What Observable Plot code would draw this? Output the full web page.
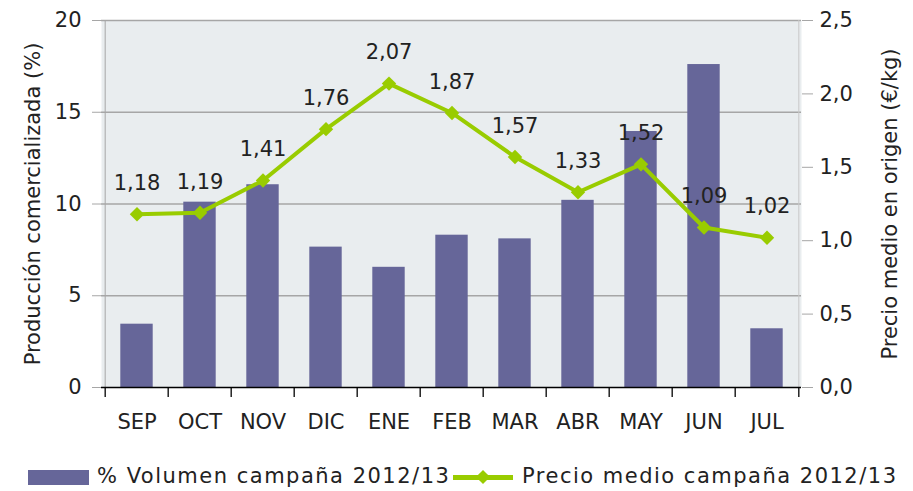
<!DOCTYPE html>
<html>
<head>
<meta charset="utf-8">
<script src="https://cdn.jsdelivr.net/npm/d3@7"></script>
<script src="https://cdn.jsdelivr.net/npm/@observablehq/plot@0.6"></script>
<style>
  body { margin: 0; background: #fff; font-family: "DejaVu Sans", sans-serif; }
  #wrap { position: relative; width: 913px; height: 491px; }
  .leg { position: absolute; font-size: 21px; color: #222; white-space: nowrap; line-height: 21px; letter-spacing: 1.5px; }
</style>
</head>
<body>
<div id="wrap"></div>
<script>
const months = ["SEP","OCT","NOV","DIC","ENE","FEB","MAR","ABR","MAY","JUN","JUL"];
const volumen = [3.45, 10.1, 11.05, 7.65, 6.55, 8.3, 8.1, 10.2, 13.95, 17.6, 3.2];
const precio = [1.18, 1.19, 1.41, 1.76, 2.07, 1.87, 1.57, 1.33, 1.52, 1.09, 1.02];
const leftTicks = [0, 5, 10, 15, 20];
const rightTicks = [0, 0.5, 1, 1.5, 2, 2.5];
const seriesNames = ["% Volumen campaña 2012/13", "Precio medio campaña 2012/13"];
const leftLabel = "Producción comercializada (%)";
const rightLabel = "Precio medio en origen (€/kg)";

const k = 20 / 2.5;
const data = months.map((m, i) => ({m, v: volumen[i], p: precio[i]}));
const fmt = (d, n) => d.toFixed(n).replace(".", ",");

const W = 913, H = 445;
const mL = 101, mR = 112, mT = 20, mB = 58;
const bw = (W - mL - mR) / months.length;
const barColor = "#666699", lineColor = "#99CC00";

const chart = Plot.plot({
  width: W, height: H,
  marginLeft: mL, marginRight: mR, marginTop: mT, marginBottom: mB,
  style: {fontFamily: "DejaVu Sans", fontSize: "21px", color: "#222", background: "#fff"},
  x: {domain: months, padding: 0, label: null},
  y: {domain: [0, 20], label: null},
  marks: [
    Plot.frame({fill: "#E9EDEF", stroke: null}),
    Plot.ruleY([5, 10, 15, 20], {stroke: "#A6A6A6", strokeWidth: 1.3}),
    Plot.ruleX([months[months.length - 1]], {dx: bw / 2, stroke: "#C8C8C8"}),
    Plot.ruleX([months[0]], {dx: -bw / 2, stroke: "#A6A6A6"}),
    Plot.barY(data, {x: "m", y: "v", fill: barColor, insetLeft: 15.3, insetRight: 15.3}),
    Plot.ruleY([0], {stroke: "#000", strokeWidth: 1.3}),
    Plot.ruleX(months, {x: d => d, dx: -bw / 2, y1: 0, y2: -0.55, stroke: "#000", strokeWidth: 1.3}),
    Plot.ruleX([months[months.length - 1]], {dx: bw / 2, y1: 0, y2: -0.55, stroke: "#000", strokeWidth: 1.3}),
    Plot.line(data, {x: "m", y: d => d.p * k, stroke: lineColor, strokeWidth: 4}),
    Plot.dot(data, {x: "m", y: d => d.p * k, symbol: "diamond2", r: 6.5, fill: lineColor, stroke: null}),
    Plot.text(data, {x: "m", y: d => d.p * k, text: d => fmt(d.p, 2), dy: -31, fontSize: 21, fill: "#222"}),
    Plot.axisY({ticks: leftTicks, anchor: "left", tickSize: 9, tickPadding: 11, stroke: "#A6A6A6", fill: "#222", fontSize: 21, label: null}),
    Plot.axisY({ticks: rightTicks.map(t => t * k), anchor: "right", tickSize: 11, tickPadding: 7, stroke: "#A6A6A6", fill: "#222", fontSize: 21, tickFormat: d => fmt(d / k, 1), label: null}),
    Plot.axisX({tickSize: 0, tickPadding: 27, fontSize: 21, fill: "#222", label: null}),
    Plot.text([leftLabel], {frameAnchor: "left", dx: -68, rotate: -90, textAnchor: "middle", fontSize: 21, fill: "#222"}),
    Plot.text([rightLabel], {frameAnchor: "right", dx: 89, rotate: -90, textAnchor: "middle", fontSize: 21, fill: "#222"})
  ]
});

const wrap = document.getElementById("wrap");
wrap.appendChild(chart);

// legend
const sw1 = document.createElement("div");
sw1.style.cssText = `position:absolute;left:28px;top:470px;width:61px;height:15px;background:${barColor};`;
wrap.appendChild(sw1);
const t1 = document.createElement("div");
t1.className = "leg"; t1.style.left = "97px"; t1.style.top = "466px"; t1.textContent = seriesNames[0];
wrap.appendChild(t1);
const sw2 = document.createElement("div");
sw2.style.cssText = `position:absolute;left:453px;top:475px;width:60px;height:5px;background:${lineColor};`;
wrap.appendChild(sw2);
const dia = document.createElement("div");
dia.style.cssText = `position:absolute;left:478px;top:472px;width:10px;height:10px;background:${lineColor};transform:rotate(45deg);`;
wrap.appendChild(dia);
const t2 = document.createElement("div");
t2.className = "leg"; t2.style.left = "522px"; t2.style.top = "466px"; t2.textContent = seriesNames[1];
wrap.appendChild(t2);
</script>
</body>
</html>
